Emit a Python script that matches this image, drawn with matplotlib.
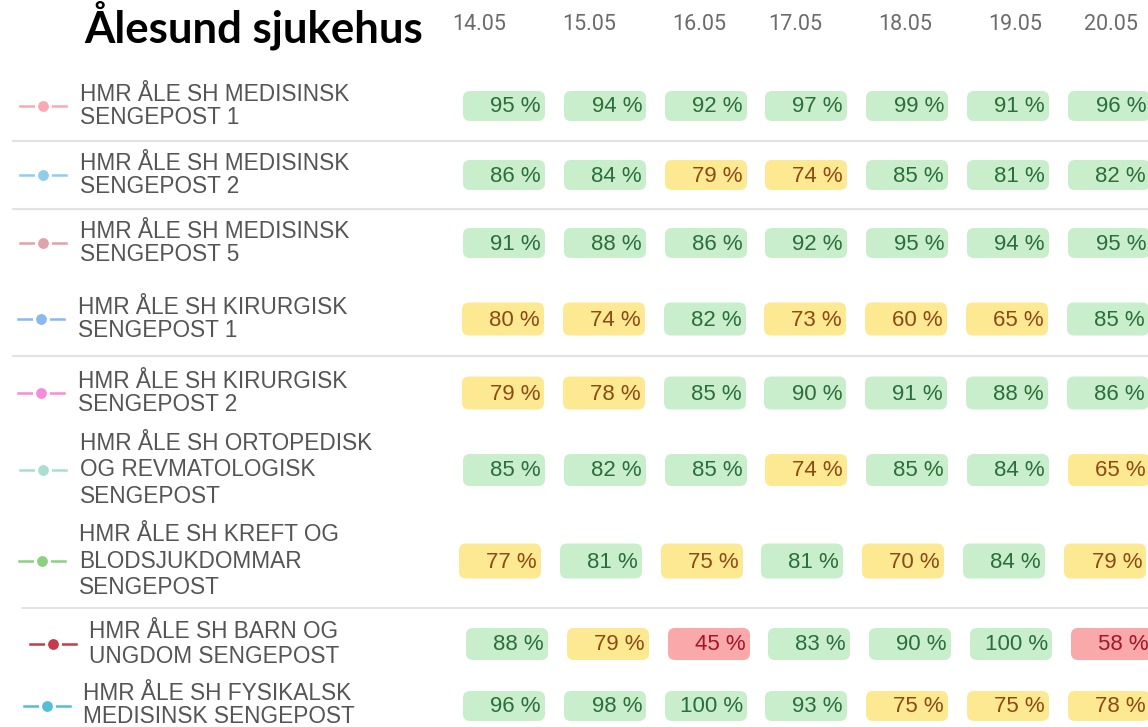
import matplotlib.pyplot as plt
from matplotlib.patches import FancyBboxPatch

title = 'Ålesund sjukehus'
dates = ['14.05', '15.05', '16.05', '17.05', '18.05', '19.05', '20.05']
units = [
    'HMR ÅLE SH MEDISINSK\nSENGEPOST 1',
    'HMR ÅLE SH MEDISINSK\nSENGEPOST 2',
    'HMR ÅLE SH MEDISINSK\nSENGEPOST 5',
    'HMR ÅLE SH KIRURGISK\nSENGEPOST 1',
    'HMR ÅLE SH KIRURGISK\nSENGEPOST 2',
    'HMR ÅLE SH ORTOPEDISK\nOG REVMATOLOGISK\nSENGEPOST',
    'HMR ÅLE SH KREFT OG\nBLODSJUKDOMMAR\nSENGEPOST',
    'HMR ÅLE SH BARN OG\nUNGDOM SENGEPOST',
    'HMR ÅLE SH FYSIKALSK\nMEDISINSK SENGEPOST',
]
unit_colors = ['#f9a9b4', '#8fcdee', '#dea3ab', '#8bb8ee', '#f78bd9',
               '#a9ded3', '#8dd083', '#c63a4a', '#52bfd7']
occupancy = [
    [95, 94, 92, 97, 99, 91, 96],
    [86, 84, 79, 74, 85, 81, 82],
    [91, 88, 86, 92, 95, 94, 95],
    [80, 74, 82, 73, 60, 65, 85],
    [79, 78, 85, 90, 91, 88, 86],
    [85, 82, 85, 74, 85, 84, 65],
    [77, 81, 75, 81, 70, 84, 79],
    [88, 79, 45, 83, 90, 100, 58],
    [96, 98, 100, 93, 75, 75, 78],
]

# layout (pixels)
row_y = [106, 175, 243, 319, 393, 470, 561, 644, 706]
row_h = [30, 30, 30, 33, 33, 32, 35, 32, 30]
row_dx = [0, 0, 0, -1, -1, 0, -4, 3, 0]
key_x = [20, 20, 20, 18, 18, 20, 19, 30, 24]
text_x = [80, 80, 80, 78, 78, 80, 79, 89, 83]
text_dy = [0, 0, 0, 0, 0, 0, 0, 0, -1]
text_ls = [1.05, 1.05, 1.05, 1.05, 1.05, 1.22, 1.22, 1.12, 1.05]
date_x = [479, 589, 699, 795, 905, 1015, 1111]
badge_x = [463, 564, 665, 765, 866, 967, 1068]
badge_w = 82
separators = [(141, 13), (209, 13), (356, 13), (608, 22)]


def badge_style(v):
    if v > 80:
        return '#c9eecb', '#2b6e3b'
    if v >= 60:
        return '#fde992', '#8c4a14'
    return '#f9a9a9', '#a3152b'


fig = plt.figure(figsize=(11.48, 7.27), dpi=100)
ax = fig.add_axes([0, 0, 1, 1])
ax.set_xlim(0, 1148)
ax.set_ylim(727, 0)
ax.axis('off')

ax.text(84, 25, title, fontsize=31.5, fontweight='bold', family='Lato',
        ha='left', va='center', color='black')
for x, d in zip(date_x, dates):
    ax.text(x, 24, d, fontsize=15.5, family='Roboto', color='#6b6b6b',
            ha='center', va='center')

for y, x0 in separators:
    ax.plot([x0, 1148], [y, y], color='#e3e3e3', lw=1.5)

for i, name in enumerate(units):
    y = row_y[i]
    kx = key_x[i]
    ax.plot([kx, kx + 23, kx + 46], [y, y, y], color=unit_colors[i], lw=1.8,
            marker='o', markevery=[1], ms=10, mec='white', mew=2.2,
            mfc=unit_colors[i])
    ax.text(text_x[i], y + text_dy[i], name, fontsize=16.3,
            family='Liberation Sans', color='#555555', ha='left',
            va='center', linespacing=text_ls[i])
    for j, v in enumerate(occupancy[i]):
        fc, tc = badge_style(v)
        bx = badge_x[j] + row_dx[i]
        h = row_h[i]
        ax.add_patch(FancyBboxPatch((bx, y - h / 2), badge_w, h,
                                    boxstyle='round,pad=0,rounding_size=7',
                                    fc=fc, ec='none'))
        ax.text(bx + badge_w - 4, y + 1, f'{v} %', fontsize=16,
                family='Liberation Sans', color=tc, ha='right', va='center')

fig.savefig('out.png', dpi=100)
